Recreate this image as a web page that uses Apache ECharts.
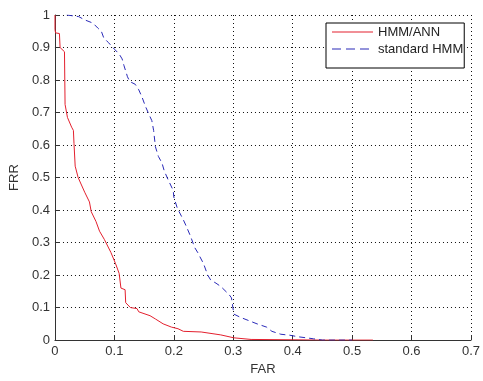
<!DOCTYPE html>
<html>
<head>
<meta charset="utf-8">
<script src="https://cdn.jsdelivr.net/npm/echarts@6/dist/echarts.min.js"></script>
<style>
html,body{margin:0;padding:0;background:#fff;}
#chart{width:483px;height:381px;}
</style>
</head>
<body>
<div id="chart"></div>
<script>
var xTicks = [0, 0.1, 0.2, 0.3, 0.4, 0.5, 0.6, 0.7];
var yTicks = [0, 0.1, 0.2, 0.3, 0.4, 0.5, 0.6, 0.7, 0.8, 0.9, 1];
var seriesNames = ['HMM/ANN', 'standard HMM'];
var seriesColors = ['#e3202e', '#2a2ab8'];
var hmmAnnFAR = [0,0,0.001,0.0075,0.0086,0.016,0.017,0.021,0.028,0.031,0.032,0.034,0.039,0.05,0.058,0.061,0.069,0.075,0.083,0.094,0.102,0.108,0.111,0.118,0.119,0.127,0.138,0.141,0.16,0.169,0.182,0.196,0.207,0.216,0.246,0.279,0.301,0.33,0.4,0.45,0.535];
var hmmAnnFRR = [1,0.955,0.945,0.943,0.90,0.887,0.725,0.685,0.655,0.645,0.605,0.535,0.50,0.455,0.425,0.395,0.365,0.335,0.31,0.27,0.235,0.205,0.16,0.155,0.115,0.10,0.097,0.087,0.075,0.065,0.05,0.04,0.035,0.027,0.025,0.016,0.007,0.002,0.001,0,0];
var stdFAR = [0.02,0.04,0.05,0.064,0.072,0.078,0.082,0.09,0.1,0.108,0.113,0.116,0.122,0.126,0.135,0.141,0.147,0.152,0.158,0.163,0.166,0.169,0.174,0.18,0.184,0.19,0.199,0.2,0.206,0.216,0.221,0.228,0.235,0.24,0.25,0.257,0.262,0.271,0.279,0.293,0.297,0.301,0.312,0.326,0.34,0.356,0.365,0.38,0.395,0.41,0.423,0.435,0.45,0.5];
var stdFRR = [1,0.995,0.985,0.975,0.96,0.95,0.93,0.915,0.895,0.88,0.865,0.845,0.81,0.795,0.787,0.77,0.745,0.72,0.695,0.675,0.645,0.595,0.565,0.545,0.52,0.495,0.46,0.44,0.405,0.37,0.35,0.32,0.285,0.27,0.235,0.20,0.185,0.175,0.165,0.14,0.13,0.08,0.07,0.06,0.05,0.04,0.027,0.018,0.015,0.01,0.007,0.004,0,0];

function zip(a, b) { return a.map(function (v, i) { return [v, b[i]]; }); }

var iconBox = 'M0,0h0.01v0.01h-0.01zM41,14h-0.01v-0.01h0.01z';
var solidIcon = 'path://' + iconBox + 'M0,6.5h41v1h-41z';
var dashIcon = 'path://' + iconBox + 'M0,6.5h9v1h-9zM14,6.5h9v1h-9zM28,6.5h9v1h-9z';

var chart = echarts.init(document.getElementById('chart'), null, {renderer: 'canvas'});
var font = "'Liberation Sans', Arial, sans-serif";
var axisCommon = {
  axisLine: {show: true, lineStyle: {color: '#333', width: 1}},
  axisTick: {show: true, inside: true, length: 5, lineStyle: {color: '#333'}},
  splitLine: {show: true, lineStyle: {color: '#111', width: 1, type: [1, 3]}},
  nameTextStyle: {fontFamily: font, fontSize: 13, color: '#333'}
};
chart.setOption({
  animation: false,
  backgroundColor: '#fff',
  grid: {left: 51, right: 9, top: 15, bottom: 33, containLabel: false},
  legend: {
    data: [
      {name: seriesNames[0], icon: solidIcon, itemStyle: {color: seriesColors[0], borderWidth: 0}},
      {name: seriesNames[1], icon: dashIcon, itemStyle: {color: seriesColors[1], borderWidth: 0}}
    ],
    orient: 'vertical',
    left: 326, top: 23,
    padding: [2, 1, 12, 6],
    itemWidth: 41, itemHeight: 14, itemGap: 3,
    borderColor: '#000', borderWidth: 1, backgroundColor: '#fff',
    textStyle: {fontFamily: font, fontSize: 13, color: '#222'}
  },
  xAxis: Object.assign({
    type: 'value', min: xTicks[0], max: xTicks[xTicks.length - 1], interval: 0.1,
    name: 'FAR', nameLocation: 'middle', nameGap: 22,
    axisLabel: {fontFamily: font, fontSize: 13, color: '#333', margin: 5,
      formatter: function (v) { return String(Math.round(v * 10) / 10); }}
  }, axisCommon),
  yAxis: Object.assign({
    type: 'value', min: yTicks[0], max: yTicks[yTicks.length - 1], interval: 0.1,
    name: 'FRR', nameLocation: 'middle', nameGap: 30,
    axisLabel: {fontFamily: font, fontSize: 13, color: '#333', margin: 5,
      formatter: function (v) { return String(Math.round(v * 10) / 10); }}
  }, axisCommon),
  series: [
    {name: seriesNames[0], type: 'line', data: zip(hmmAnnFAR, hmmAnnFRR), showSymbol: false, symbol: 'none',
      lineStyle: {color: seriesColors[0], width: 1}, itemStyle: {color: seriesColors[0]}},
    {name: seriesNames[1], type: 'line', data: zip(stdFAR, stdFRR), showSymbol: false, symbol: 'none',
      lineStyle: {color: seriesColors[1], width: 1, type: [6, 4]}, itemStyle: {color: seriesColors[1]}}
  ]
});
</script>
</body>
</html>
